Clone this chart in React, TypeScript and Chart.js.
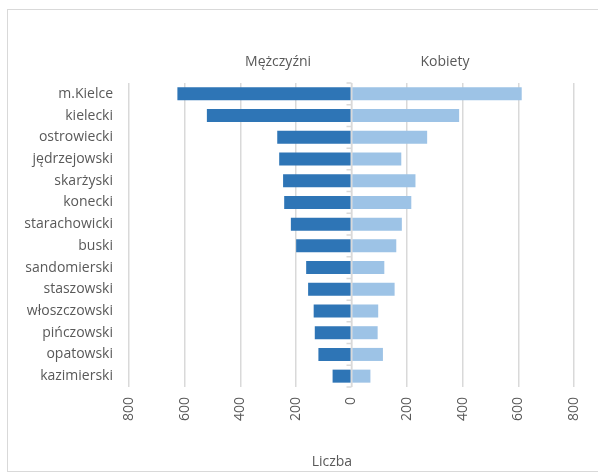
import React, { useEffect, useRef } from "react";
import { Chart, registerables } from "chart.js";

Chart.register(...registerables);

const categories = [
  "m.Kielce",
  "kielecki",
  "ostrowiecki",
  "jędrzejowski",
  "skarżyski",
  "konecki",
  "starachowicki",
  "buski",
  "sandomierski",
  "staszowski",
  "włoszczowski",
  "pińczowski",
  "opatowski",
  "kazimierski",
];
const maleValues = [626, 520, 267, 260, 246, 242, 218, 199, 163, 156, 136, 132, 119, 68];
const femaleValues = [612, 387, 272, 179, 230, 215, 181, 161, 118, 155, 96, 94, 113, 68];
const seriesNames = ["Mężczyźni", "Kobiety"];
const axisTitle = "Liczba";

const FONT = "'Open Sans', 'Noto Sans', sans-serif";
const TEXT = "#595959";
const GRID = "#d9d9d9";

const overlayPlugin = {
  id: "overlay",
  afterDatasetsDraw(chart: any) {
    const { ctx, chartArea } = chart;
    const xs = chart.scales.x;
    const x0 = xs.getPixelForValue(0);
    const n = categories.length;
    const h = chartArea.bottom - chartArea.top;
    ctx.save();
    ctx.strokeStyle = GRID;
    ctx.lineWidth = 1.5;
    ctx.beginPath();
    ctx.moveTo(x0, chartArea.top);
    ctx.lineTo(x0, chartArea.bottom);
    for (let i = 0; i <= n; i++) {
      const y = chartArea.top + (i * h) / n;
      ctx.moveTo(x0 - 5, y);
      ctx.lineTo(x0, y);
    }
    ctx.stroke();
    ctx.restore();
  },
  afterDraw(chart: any) {
    const { ctx, chartArea } = chart;
    const w = chartArea.right - chartArea.left;
    ctx.save();
    ctx.fillStyle = TEXT;
    ctx.font = `14px ${FONT}`;
    ctx.textAlign = "center";
    ctx.textBaseline = "middle";
    const y = chartArea.top - 21;
    ctx.fillText(seriesNames[0], chartArea.left + w * 0.335, y);
    ctx.fillText(seriesNames[1], chartArea.left + w * 0.71, y);
    ctx.fillText(axisTitle, chartArea.left + w * 0.456, chartArea.bottom + 75);
    ctx.restore();
  },
};

export default function App() {
  const ref = useRef<HTMLCanvasElement | null>(null);
  useEffect(() => {
    if (!ref.current) return;
    const chart = new Chart(ref.current, {
      type: "bar",
      data: {
        labels: categories,
        datasets: [
          {
            label: seriesNames[0],
            data: maleValues.map((v) => -v),
            backgroundColor: "#2e75b6",
            barPercentage: 0.6,
            categoryPercentage: 1,
          },
          {
            label: seriesNames[1],
            data: femaleValues,
            backgroundColor: "#9dc3e6",
            barPercentage: 0.6,
            categoryPercentage: 1,
          },
        ],
      },
      options: {
        indexAxis: "y",
        responsive: false,
        animation: false,
        layout: { padding: { top: 83, right: 24, left: 0, bottom: 0 } },
        plugins: {
          legend: { display: false },
          tooltip: { enabled: false },
        },
        scales: {
          x: {
            stacked: true,
            min: -800,
            max: 800,
            border: { display: false },
            grid: { color: GRID, lineWidth: 1.5, drawTicks: false },
            ticks: {
              stepSize: 200,
              minRotation: 90,
              maxRotation: 90,
              padding: 10,
              color: TEXT,
              font: { family: FONT, size: 14 },
              callback: (v: any) => String(Math.abs(Number(v))),
            },
            afterFit: (s: any) => {
              s.height = 88;
              s.paddingLeft = 0;
              s.paddingRight = 0;
            },
          },
          y: {
            stacked: true,
            border: { display: false },
            grid: { display: false, drawTicks: false },
            ticks: {
              padding: 16,
              color: TEXT,
              font: { family: FONT, size: 14 },
            },
            afterFit: (s: any) => {
              s.width = 129;
            },
          },
        },
      },
      plugins: [overlayPlugin],
    });
    return () => chart.destroy();
  }, []);
  return (
    <div style={{ position: "fixed", left: 0, top: 0, width: 598, height: 475, background: "#fff" }}>
      <div
        style={{
          position: "absolute",
          left: 7,
          top: 9,
          width: 620,
          height: 463,
          border: "1.5px solid #d9d9d9",
          boxSizing: "border-box",
        }}
      />
      <canvas
        ref={ref}
        width={598}
        height={475}
        style={{ position: "absolute", left: 0, top: 0, width: 598, height: 475 }}
      />
    </div>
  );
}
